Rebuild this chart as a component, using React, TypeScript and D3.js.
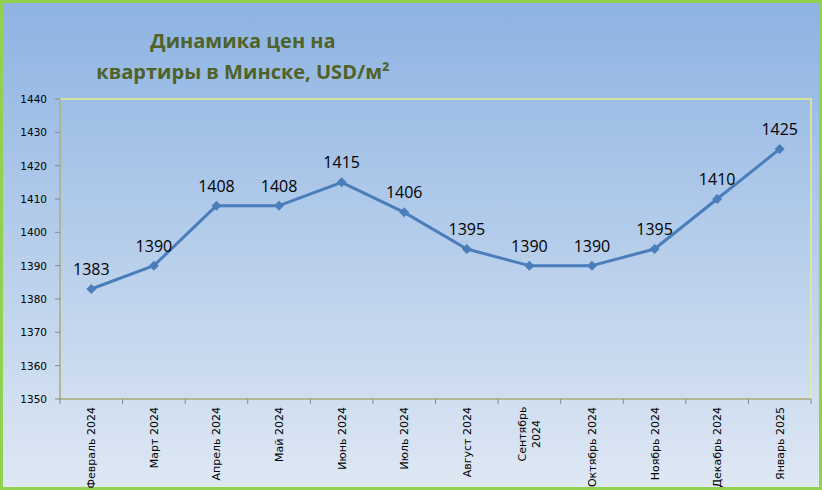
import React from "react";
import * as d3 from "d3";

const categories = [
  "Февраль 2024", "Март 2024", "Апрель 2024", "Май 2024", "Июнь 2024", "Июль 2024",
  "Август 2024", "Сентябрь\n2024", "Октябрь 2024", "Ноябрь 2024", "Декабрь 2024", "Январь 2025",
];
const values = [1383, 1390, 1408, 1408, 1415, 1406, 1395, 1390, 1390, 1395, 1410, 1425];
const yTicks = [1350, 1360, 1370, 1380, 1390, 1400, 1410, 1420, 1430, 1440];
const titleLines = ["Динамика цен на", "квартиры в Минске, USD/м²"];

const W = 822, H = 490;
const plot = { left: 60, right: 811, top: 99, bottom: 399 };

export default function App() {
  const x = d3.scaleBand<string>().domain(categories).range([plot.left, plot.right]).padding(0);
  const y = d3.scaleLinear().domain([1350, 1440]).range([plot.bottom, plot.top]);
  const cx = (c: string) => (x(c) as number) + x.bandwidth() / 2;
  const line = d3.line<number>().x((_, i) => cx(categories[i])).y((v) => y(v));
  const boundaries = categories.map((c) => x(c) as number).concat([plot.right]);
  const font = "'Open Sans', 'Liberation Sans', sans-serif";
  const axisFont = "'DejaVu Sans', sans-serif";

  return (
    <svg width={W} height={H} style={{ position: "absolute", left: 0, top: 0 }}>
      <defs>
        <linearGradient id="bg" x1="0" y1="0" x2="0" y2="1">
          <stop offset="0" stopColor="#8db3e2" />
          <stop offset="1" stopColor="#dfe8f4" />
        </linearGradient>
      </defs>
      <rect x={1.5} y={1.5} width={W - 3} height={H - 3} fill="url(#bg)" stroke="#92d050" strokeWidth={3} />
      <g fontFamily={font} fontWeight="bold" fontSize={20} fill="#4f6228" textAnchor="middle">
        {titleLines.map((t, i) => (
          <text key={i} x={243} y={48 + i * 31}>{t}</text>
        ))}
      </g>
      <rect x={plot.left} y={plot.top} width={plot.right - plot.left} height={plot.bottom - plot.top}
        fill="none" stroke="#e8ec8a" strokeWidth={1.5} />
      <line x1={plot.left} x2={plot.left} y1={plot.top} y2={plot.bottom} stroke="#868686" />
      <line x1={plot.left} x2={plot.right} y1={plot.bottom} y2={plot.bottom} stroke="#868686" />
      <g fontFamily={axisFont} fontSize={10.5} fill="#000" textAnchor="end">
        {yTicks.map((t) => (
          <g key={t}>
            <line x1={plot.left - 5} x2={plot.left} y1={y(t)} y2={y(t)} stroke="#868686" />
            <text x={47} y={y(t) + 4}>{t}</text>
          </g>
        ))}
      </g>
      {boundaries.map((b, i) => (
        <line key={i} x1={b} x2={b} y1={plot.bottom} y2={plot.bottom + 5} stroke="#868686" />
      ))}
      <g fontFamily={axisFont} fontSize={11} fill="#000">
        {categories.map((c) => {
          const parts = c.split("\n");
          const px = cx(c);
          if (parts.length === 1) {
            return (
              <text key={c} textAnchor="end" dy={4}
                transform={`translate(${px},${plot.bottom + 8}) rotate(-90)`}>{c}</text>
            );
          }
          return (
            <text key={c} textAnchor="middle"
              transform={`translate(${px},${plot.bottom + 8}) rotate(-90)`}>
              {parts.map((p, j) => (
                <tspan key={j} x={-27} dy={j === 0 ? -3 : 14}>{p}</tspan>
              ))}
            </text>
          );
        })}
      </g>
      <path d={line(values) as string} fill="none" stroke="#4a7ebb" strokeWidth={3} strokeLinejoin="round" />
      {values.map((v, i) => {
        const px = cx(categories[i]), py = y(v);
        return (
          <g key={i}>
            <path d={`M${px},${py - 5}L${px + 5},${py}L${px},${py + 5}L${px - 5},${py}Z`} fill="#4a7ebb" />
            <text x={px} y={py - 14} textAnchor="middle" fontFamily={font} fontSize={16} fill="#000">{v}</text>
          </g>
        );
      })}
    </svg>
  );
}
